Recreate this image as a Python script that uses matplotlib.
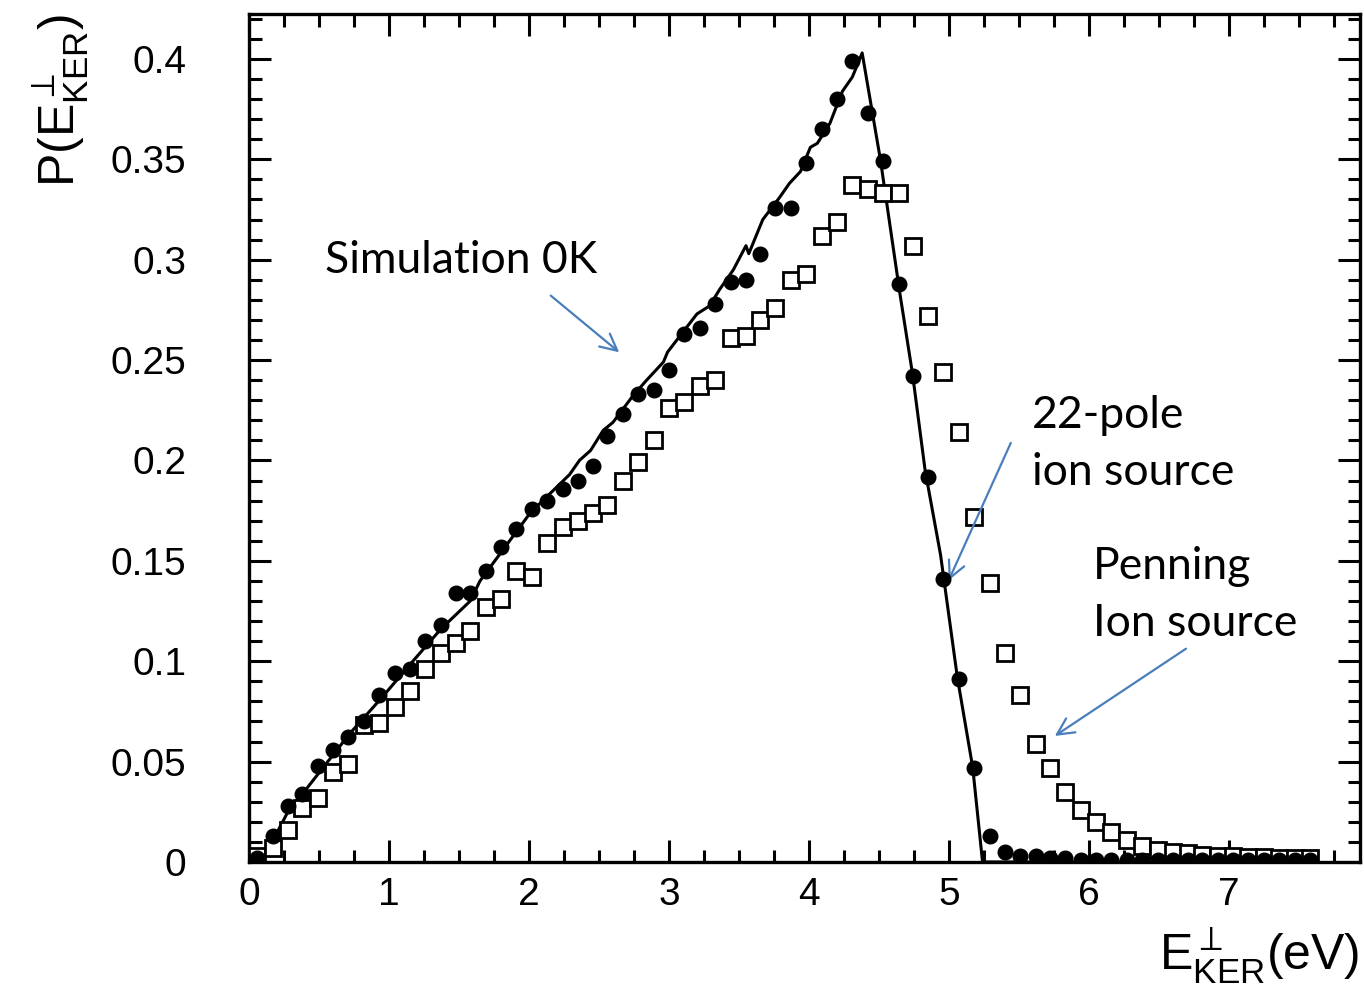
import numpy as np
import matplotlib.pyplot as plt
from matplotlib.ticker import MultipleLocator

# bin centres (eV) shared by both measured series
ekin = [0.06, 0.17, 0.28, 0.38, 0.49, 0.60, 0.71, 0.82, 0.93, 1.04,
        1.15, 1.26, 1.37, 1.48, 1.58, 1.69, 1.80, 1.91, 2.02, 2.13,
        2.24, 2.35, 2.46, 2.56, 2.67, 2.78, 2.89, 3.00, 3.11, 3.22,
        3.33, 3.44, 3.55, 3.65, 3.76, 3.87, 3.98, 4.09, 4.20, 4.31,
        4.42, 4.53, 4.64, 4.74, 4.85, 4.96, 5.07, 5.18, 5.29, 5.40,
        5.51, 5.62, 5.72, 5.83, 5.94, 6.05, 6.16, 6.27, 6.38, 6.49,
        6.60, 6.71, 6.81, 6.92, 7.03, 7.14, 7.25, 7.36, 7.47, 7.58]

# 22-pole ion source (filled circles)
pole22 = [0.002, 0.013, 0.028, 0.034, 0.048, 0.056, 0.062, 0.070, 0.083, 0.094,
          0.096, 0.110, 0.118, 0.134, 0.134, 0.145, 0.157, 0.166, 0.176, 0.180,
          0.186, 0.190, 0.197, 0.212, 0.223, 0.233, 0.235, 0.245, 0.263, 0.266,
          0.278, 0.289, 0.290, 0.303, 0.326, 0.326, 0.348, 0.365, 0.380, 0.399,
          0.373, 0.349, 0.288, 0.242, 0.192, 0.141, 0.091, 0.047, 0.013, 0.005,
          0.003, 0.003, 0.002, 0.002, 0.001, 0.001, 0.001, 0.001, 0.001, 0.001,
          0.001, 0.001, 0.001, 0.001, 0.001, 0.001, 0.001, 0.001, 0.001, 0.001]

# Penning ion source (open squares)
penning = [0.003, 0.007, 0.016, 0.027, 0.032, 0.045, 0.049, 0.068, 0.069, 0.077,
           0.085, 0.096, 0.104, 0.109, 0.115, 0.127, 0.131, 0.145, 0.142, 0.159,
           0.167, 0.170, 0.174, 0.178, 0.190, 0.199, 0.210, 0.226, 0.229, 0.237,
           0.240, 0.261, 0.262, 0.270, 0.276, 0.290, 0.293, 0.312, 0.319, 0.337,
           0.335, 0.333, 0.333, 0.307, 0.272, 0.244, 0.214, 0.172, 0.139, 0.104,
           0.083, 0.059, 0.047, 0.035, 0.026, 0.020, 0.015, 0.011, 0.008, 0.006,
           0.005, 0.0045, 0.0035, 0.003, 0.003, 0.0025, 0.0025, 0.002, 0.002, 0.002]

# simulation at 0 K (solid line)
sim_x = [0.09, 0.27, 0.45, 0.72, 0.95, 1.17, 1.37, 1.58, 1.65, 2.01,
         2.29, 2.36, 2.44, 2.53, 2.60, 2.74, 2.84, 2.96, 2.99, 3.10,
         3.20, 3.29, 3.36, 3.46, 3.55, 3.57, 3.67, 3.79, 3.86, 3.94,
         4.01, 4.06, 4.15, 4.20, 4.24, 4.31, 4.38, 4.51, 4.65, 4.74,
         4.83, 4.94, 5.06, 5.17, 5.24, 7.60]
sim_y = [0.000, 0.024, 0.040, 0.064, 0.082, 0.100, 0.116, 0.130, 0.140, 0.174,
         0.193, 0.200, 0.205, 0.215, 0.219, 0.232, 0.240, 0.249, 0.254, 0.264,
         0.273, 0.277, 0.285, 0.295, 0.307, 0.303, 0.320, 0.331, 0.338, 0.344,
         0.356, 0.358, 0.368, 0.377, 0.384, 0.391, 0.403, 0.350, 0.283, 0.243,
         0.195, 0.153, 0.092, 0.047, 0.000, 0.000]

plt.rcParams['font.family'] = ['Liberation Sans', 'DejaVu Sans']
plt.rcParams['mathtext.fontset'] = 'custom'
plt.rcParams['mathtext.rm'] = 'Liberation Sans'
plt.rcParams['mathtext.it'] = 'Liberation Sans'

fig = plt.figure(figsize=(13.64, 9.86), dpi=100)
ax = fig.add_axes([0.1826, 0.1258, 0.8144, 0.86])

ax.plot(sim_x, sim_y, color='black', lw=2.2, zorder=2)
ax.plot(ekin, penning, ls='none', marker='s', ms=12, mfc='white', mec='black',
        mew=2.0, zorder=3)
ax.plot(ekin, pole22, ls='none', marker='o', ms=10.5, color='black', zorder=4)

ax.set_xlim(0, 7.936)
ax.set_ylim(0, 0.4224)
ax.xaxis.set_major_locator(MultipleLocator(1))
ax.xaxis.set_minor_locator(MultipleLocator(0.25))
ax.yaxis.set_major_locator(MultipleLocator(0.05))
ax.yaxis.set_minor_locator(MultipleLocator(0.01))
ax.set_yticks([0, 0.05, 0.1, 0.15, 0.2, 0.25, 0.3, 0.35, 0.4])
ax.set_yticklabels(['0', '0.05', '0.1', '0.15', '0.2', '0.25', '0.3', '0.35', '0.4'])

ax.tick_params(which='both', direction='in', top=True, right=True, width=2.2,
               labelsize=28)
ax.tick_params(which='major', length=16)
ax.tick_params(which='minor', length=9)
ax.tick_params(axis='y', pad=45)
ax.tick_params(axis='x', pad=11)
for s in ax.spines.values():
    s.set_linewidth(2.4)

ax.set_xlabel(r'E$_{\mathrm{KER}}^{\perp}$(eV)', fontsize=36, loc='right', labelpad=9)
ax.set_ylabel(r'P(E$_{\mathrm{KER}}^{\perp}$)', fontsize=36, loc='top', labelpad=14)

blue = '#4a7ebb'
note = dict(fontsize=32, family=['Lato', 'DejaVu Sans'], color='black',
            linespacing=1.48)
arw = dict(arrowstyle='->', color=blue, lw=1.6, mutation_scale=30)

ax.annotate('', xy=(2.66, 0.253), xytext=(2.14, 0.283), arrowprops=arw)
ax.text(0.54, 0.2934, 'Simulation 0K', **note)

ax.annotate('', xy=(4.99, 0.139), xytext=(5.45, 0.210), arrowprops=arw)
ax.text(5.59, 0.1878, '22-pole\nion source', **note)

ax.annotate('', xy=(5.74, 0.062), xytext=(6.71, 0.107), arrowprops=arw)
ax.text(6.03, 0.1126, 'Penning\nIon source', **note)

fig.savefig('out.png', dpi=100)
